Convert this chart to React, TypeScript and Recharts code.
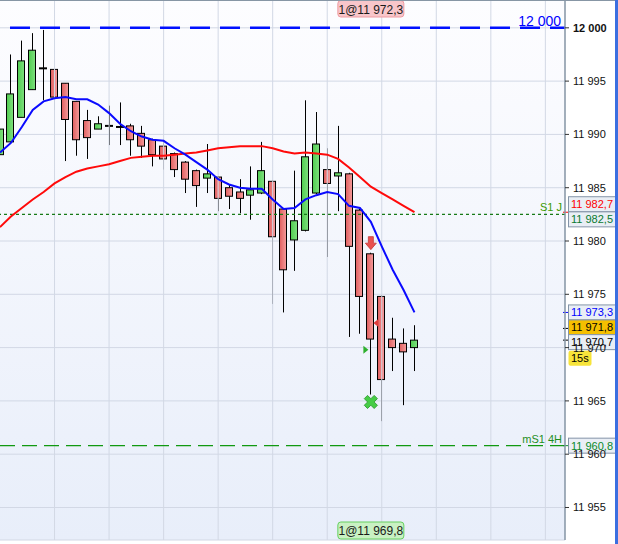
import React from "react";
import {
  ComposedChart,
  Bar,
  Line,
  XAxis,
  YAxis,
  CartesianGrid,
  ReferenceLine,
  ReferenceDot,
} from "recharts";

// candles, oldest first
const opens = [
  11988.1, 11989.3, 11991.6, 11994.2, 11996.2, 11996.1, 11994.8, 11993.1, 11991.3, 11990.5,
  11990.8, 11990.7, 11990.8, 11990.1, 11989.5, 11988.9, 11988.2, 11987.4, 11986.6, 11985.9,
  11986.0, 11985.0, 11984.6, 11984.3, 11984.5, 11985.6, 11983.0, 11980.1, 11981.0, 11984.5,
  11986.7, 11986.1, 11986.3, 11982.9, 11978.8, 11974.8, 11970.8, 11970.4, 11970.0,
];
const highs = [
  11990.5, 11997.5, 11998.8, 11999.5, 11999.8, 11996.1, 11994.8, 11993.1, 11992.3, 11991.7,
  11992.7, 11993.0, 11991.0, 11990.8, 11989.6, 11989.5, 11988.3, 11987.5, 11986.7, 11989.1,
  11986.1, 11985.3, 11985.8, 11987.0, 11989.3, 11985.7, 11983.1, 11986.6, 11993.2, 11992.1,
  11988.7, 11990.8, 11986.4, 11983.0, 11978.9, 11974.9, 11972.8, 11971.8, 11972.1,
];
const lows = [
  11988.1, 11989.2, 11991.6, 11994.2, 11993.2, 11992.3, 11987.5, 11988.0, 11987.7, 11990.5,
  11989.0, 11989.0, 11988.0, 11987.8, 11987.0, 11986.7, 11986.0, 11984.5, 11983.2, 11984.5,
  11982.8, 11983.0, 11982.6, 11982.0, 11984.4, 11974.1, 11973.3, 11977.2, 11980.9, 11984.4,
  11978.5, 11982.8, 11971.0, 11971.3, 11965.6, 11963.1, 11967.8, 11964.6, 11967.8,
];
const closes = [
  11990.5, 11993.8, 11996.9, 11997.9, 11996.2, 11993.5, 11991.4, 11989.5, 11989.7, 11991.0,
  11990.8, 11990.7, 11989.5, 11988.9, 11988.1, 11987.7, 11986.7, 11985.8, 11985.2, 11986.3,
  11984.0, 11984.2, 11984.0, 11984.8, 11986.6, 11980.4, 11977.3, 11981.9, 11987.9, 11989.1,
  11985.4, 11986.4, 11979.5, 11974.8, 11970.8, 11967.0, 11970.0, 11969.6, 11970.7,
];
const fastMa = [
  11988.3, 11989.2, 11990.7, 11992.3, 11993.1, 11993.4, 11993.5, 11993.3, 11993.3, 11992.8,
  11992.0, 11991.0, 11990.3, 11989.8, 11989.5, 11989.4, 11988.7, 11988.1, 11987.4, 11986.7,
  11985.8, 11985.3, 11985.0, 11984.9, 11984.9, 11983.9, 11983.0, 11983.1, 11983.9, 11984.3,
  11984.6, 11984.4, 11983.3, 11983.1, 11981.8, 11979.5, 11977.3, 11975.4, 11973.3,
];
const slowMa = [
  11981.3, 11982.3, 11983.1, 11983.9, 11984.6, 11985.4, 11986.0, 11986.5, 11986.8, 11987.0,
  11987.2, 11987.5, 11987.8, 11987.9, 11988.0, 11988.0, 11988.1, 11988.2, 11988.3, 11988.5,
  11988.7, 11988.8, 11988.9, 11988.9, 11988.9, 11988.7, 11988.4, 11988.2, 11988.3, 11988.2,
  11988.1, 11987.7, 11986.9, 11986.0, 11985.1, 11984.5, 11983.9, 11983.3, 11982.7,
];

const yTicks = [11955, 11960, 11965, 11970, 11975, 11980, 11985, 11990, 11995, 12000];
const xTicks = [5, 10, 15, 20, 25, 30, 35, 40, 45, 50];

const roundLevel = 12000;
const s1Level = 11982.5;
const ms1Level = 11960.8;

// order fill: candle index, price
const tradeBar = 34;
const sellPrice = 11972.3;
const buyPrice = 11969.8;
const signalPrice = 11979.8;
const stopPrice = 11964.9;

const tagValues = [11982.7, 11982.5, 11973.3, 11971.8, 11970.7, 11960.8];
const tagStyles = [
  { color: "#ff0000", fill: "#e9eef5", dy: -8, tick: "#ff0000" },
  { color: "#0a7a30", fill: "#e9eef5", dy: 5, tick: "none" },
  { color: "#0000ff", fill: "#e9eef5", dy: 0, tick: "#0000ff" },
  { color: "#000000", fill: "#f5c000", dy: -1, tick: "#000000" },
  { color: "#000000", fill: "#e9eef5", dy: 2, tick: "#000000" },
  { color: "#0a8a2a", fill: "#e9eef5", dy: 0, tick: "#0a8a2a" },
];

const data = opens.map((o, i) => ({
  i,
  open: o,
  high: highs[i],
  low: lows[i],
  close: closes[i],
  fast: fastMa[i],
  slow: slowMa[i],
}));

const FONT = '"Liberation Sans", Arial, sans-serif';

const fmt = (v: number) =>
  `${Math.floor(v / 1000)} ${String(Math.round(v % 1000)).padStart(3, "0")}`;
const fmtPrice = (v: number) => {
  const s = v.toFixed(1).replace(".", ",");
  return s.slice(0, 2) + " " + s.slice(2);
};

const Candle = (props: any) => {
  const { x, y, width, height, payload } = props;
  const { open, close, high, low } = payload;
  const top = Math.min(y, y + height);
  const h = Math.abs(height);
  const k = high > low ? h / (high - low) : 0;
  const py = (v: number) => top + (high - v) * k;
  const cx = Math.round(x + width / 2) + 0.5;
  const left = Math.round(x) + 0.5;
  const bTop = py(Math.max(open, close));
  const bBot = py(Math.min(open, close));
  return (
    <g>
      <line x1={cx} x2={cx} y1={top} y2={top + h} stroke="#000" strokeWidth={1} />
      {open === close ? (
        <line x1={left - 0.5} x2={left + width - 0.5} y1={bTop} y2={bTop} stroke="#000" strokeWidth={2} />
      ) : (
        <rect
          x={left}
          y={bTop}
          width={width - 1}
          height={Math.max(bBot - bTop, 1)}
          fill={close > open ? "url(#gUp)" : "url(#gDn)"}
          stroke="#000"
          strokeWidth={1}
        />
      )}
    </g>
  );
};

const YTick = (props: any) => {
  const { x, y, payload } = props;
  return (
    <text
      x={x}
      y={y}
      dy={4}
      fontSize={11}
      fontFamily={FONT}
      fontWeight={payload.value === 12000 ? "bold" : "normal"}
      fill="#111"
    >
      {fmt(payload.value)}
    </text>
  );
};

const tagLabel = (idx: number) => (props: any) => {
  const { viewBox } = props;
  const st = tagStyles[idx];
  const right = viewBox.x + viewBox.width;
  const yv = viewBox.y;
  const cy = yv + st.dy;
  return (
    <g>
      {st.tick !== "none" && (
        <line x1={right - 2} x2={right + 3} y1={yv} y2={yv} stroke={st.tick} strokeWidth={1} />
      )}
      <rect x={right + 3.5} y={cy - 7.5} width={47} height={15} fill={st.fill} stroke="#8494a8" strokeWidth={1} />
      <text x={right + 6} y={cy} dy={4} fontSize={11} fontFamily={FONT} fill={st.color}>
        {fmtPrice(tagValues[idx])}
      </text>
      {idx === 4 && (
        <g>
          <rect x={right + 3.5} y={cy + 8.5} width={23} height={15} rx={2} fill="#f7e43a" />
          <text x={right + 6} y={cy + 16} dy={4} fontSize={11} fontFamily={FONT} fill="#000">
            15s
          </text>
        </g>
      )}
    </g>
  );
};

const RoundLabel = (props: any) => {
  const { viewBox } = props;
  return (
    <text
      x={viewBox.x + viewBox.width - 4}
      y={viewBox.y - 2}
      textAnchor="end"
      fontSize={14}
      fontFamily={FONT}
      fill="#0000ff"
    >
      12 000
    </text>
  );
};

const levelLabel = (text: string, color: string) => (props: any) => {
  const { viewBox } = props;
  return (
    <text
      x={viewBox.x + viewBox.width - 3}
      y={viewBox.y - 3}
      textAnchor="end"
      fontSize={11}
      fontFamily={FONT}
      fill={color}
    >
      {text}
    </text>
  );
};

const TopFill = (props: any) => {
  const { viewBox } = props;
  const cx = viewBox.x;
  return (
    <g>
      <rect x={cx - 33} y={viewBox.y + 0.5} width={66} height={16.5} rx={3} fill="#f8c6ca" stroke="#ee9aa1" />
      <text x={cx} y={viewBox.y + 9} dy={4.5} textAnchor="middle" fontSize={12} fontFamily={FONT} fill="#1a1a1a">
        {"1@" + fmtPrice(sellPrice)}
      </text>
    </g>
  );
};

const BottomFill = (props: any) => {
  const { viewBox } = props;
  const cx = viewBox.x;
  const b = viewBox.y + viewBox.height;
  return (
    <g>
      <rect x={cx - 33} y={b - 18} width={66} height={17} rx={3} fill="#c9f1c3" stroke="#66d060" />
      <text x={cx} y={b - 9.5} dy={4.5} textAnchor="middle" fontSize={12} fontFamily={FONT} fill="#1a1a1a">
        {"1@" + fmtPrice(buyPrice)}
      </text>
    </g>
  );
};

const DownArrow = ({ cx, cy }: any) => (
  <path
    d={`M${cx - 2.5},${cy - 6.5} h5 v6.5 h3 l-5.5,6.5 l-5.5,-6.5 h3 z`}
    fill="#e9514f"
    stroke="#c43a3a"
    strokeWidth={0.8}
  />
);

const SellMark = ({ cx, cy }: any) => (
  <path d={`M${cx + 2.5},${cy} L${cx + 7.5},${cy - 4} L${cx + 7.5},${cy + 4} z`} fill="#e03c3c" />
);

const BuyMark = ({ cx, cy }: any) => (
  <path d={`M${cx - 2.5},${cy} L${cx - 7.5},${cy - 4} L${cx - 7.5},${cy + 4} z`} fill="#2eb02e" />
);

const CrossMark = ({ cx, cy }: any) => (
  <g transform={`translate(${cx},${cy}) rotate(45)`}>
    <path
      d="M-2.3,-7 h4.6 v4.7 h4.7 v4.6 h-4.7 v4.7 h-4.6 v-4.7 h-4.7 v-4.6 h4.7 z"
      fill="#46cc46"
      stroke="#2b9a2b"
      strokeWidth={0.8}
    />
  </g>
);

export default function App() {
  return (
    <div style={{ position: "absolute", left: 0, top: 0, width: 618, height: 544, background: "#fff" }}>
      <ComposedChart width={618} height={544} data={data} margin={{ top: 0, right: 0, bottom: 4, left: 0 }}>
        <defs>
          <linearGradient id="bgGrad" x1="0" y1="0" x2="0" y2="1">
            <stop offset="0%" stopColor="#fdfdff" />
            <stop offset="100%" stopColor="#e8eefa" />
          </linearGradient>
          <linearGradient id="gUp" x1="0" y1="0" x2="1" y2="0">
            <stop offset="0%" stopColor="#4fcc4f" />
            <stop offset="100%" stopColor="#7fe07f" />
          </linearGradient>
          <linearGradient id="gDn" x1="0" y1="0" x2="1" y2="0">
            <stop offset="0%" stopColor="#e05e5e" />
            <stop offset="100%" stopColor="#f59c9c" />
          </linearGradient>
        </defs>
        <CartesianGrid fill="url(#bgGrad)" stroke="#d2d8e5" strokeWidth={1} vertical={false} />
        <XAxis
          dataKey="i"
          type="number"
          domain={[0, 51.8]}
          allowDataOverflow
          ticks={xTicks}
          interval={0}
          height={0}
          tick={false}
          tickLine={false}
          axisLine={{ stroke: "#7e8c9a", strokeWidth: 2 }}
        />
        <YAxis
          orientation="right"
          width={53}
          domain={[11951.95, 12002.61]}
          allowDataOverflow
          ticks={yTicks}
          interval={0}
          tick={<YTick />}
          tickSize={4}
          tickMargin={4}
          tickLine={{ stroke: "#333" }}
          axisLine={{ stroke: "#8595a5", strokeWidth: 1.5 }}
        />
        {xTicks.map((t) => (
          <ReferenceLine key={"v" + t} x={t} stroke="#d2d8e5" strokeWidth={1} />
        ))}
        <ReferenceLine y={s1Level} stroke="#177a17" strokeWidth={1.2} strokeDasharray="3 3" label={levelLabel("S1 J", "#3a9a00")} />
        <ReferenceLine y={ms1Level} stroke="#119911" strokeWidth={1.2} strokeDasharray="15 7" label={levelLabel("mS1 4H", "#1f8f1f")} />
        <ReferenceLine y={roundLevel} stroke="#0010ff" strokeWidth={2.5} strokeDasharray="20 10" strokeDashoffset={5} label={<RoundLabel />} />
        <Bar dataKey={(d: any) => [d.low, d.high]} barSize={8} shape={<Candle />} isAnimationActive={false} />
        <Line dataKey="slow" type="linear" stroke="#ff0a0a" strokeWidth={2} dot={false} isAnimationActive={false} />
        <Line dataKey="fast" type="linear" stroke="#0a0aff" strokeWidth={2} dot={false} isAnimationActive={false} />
        <ReferenceDot x={tradeBar} y={signalPrice} r={6} shape={<DownArrow />} />
        <ReferenceDot x={tradeBar} y={sellPrice} r={4} shape={<SellMark />} />
        <ReferenceDot x={tradeBar} y={buyPrice} r={4} shape={<BuyMark />} />
        <ReferenceDot x={tradeBar} y={stopPrice} r={6} shape={<CrossMark />} />
        <ReferenceLine x={tradeBar} stroke="none" label={<TopFill />} />
        <ReferenceLine x={tradeBar} stroke="none" label={<BottomFill />} />
        {tagValues.map((v, idx) => (
          <ReferenceLine key={v} y={v} stroke="none" label={tagLabel(idx)} />
        ))}
      </ComposedChart>
      <div style={{ position: "absolute", left: 0, top: 0, width: 618, height: 1, background: "#8796a5" }} />
      <div style={{ position: "absolute", left: 615, top: 0, width: 3, height: 544, background: "#3b6fe0" }} />
    </div>
  );
}
